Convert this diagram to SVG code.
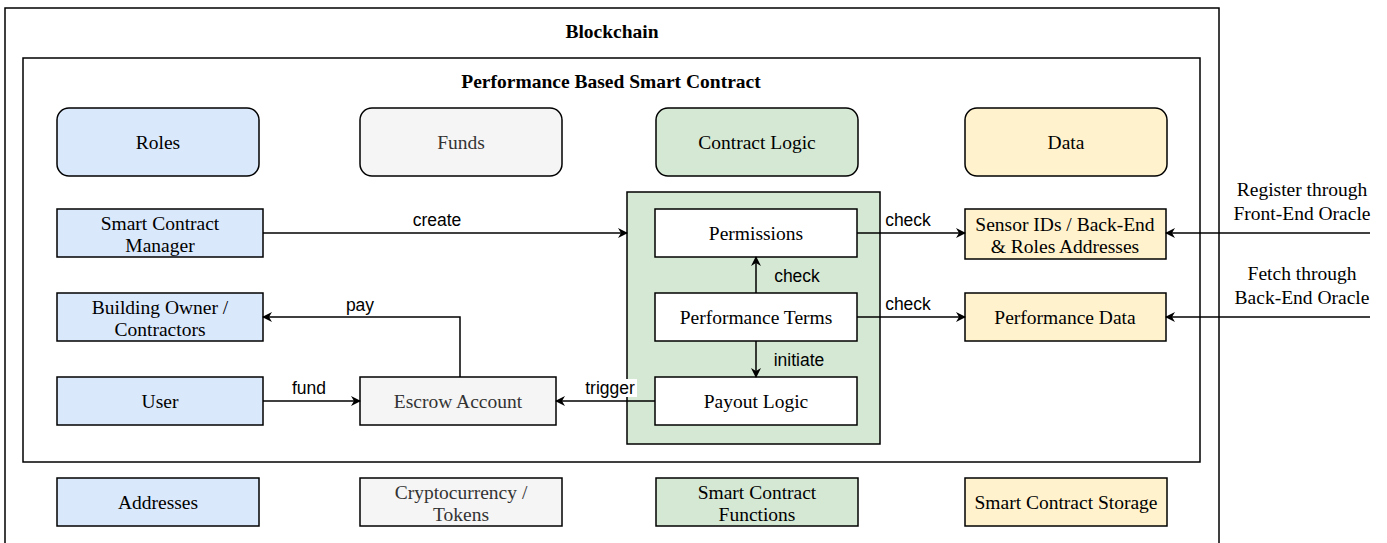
<svg xmlns="http://www.w3.org/2000/svg" width="1387" height="543" viewBox="0 0 1387 543">
<defs>
<marker id="ah" viewBox="0 0 10 10" refX="9" refY="5" markerWidth="10" markerHeight="10" markerUnits="userSpaceOnUse" orient="auto">
<path d="M0,0 L10,5 L0,10 L3,5 Z" fill="#000"/>
</marker>
</defs>
<style>
.frame{fill:#fff;stroke:#000;stroke-width:1.5}
.n{stroke:#000;stroke-width:1.5}
.blue{fill:#dae8fc}
.gray{fill:#f5f5f5}
.green{fill:#d5e8d4}
.yellow{fill:#fff2cc}
.white{fill:#fff}
.t{font-family:"Liberation Serif",serif;font-size:19.5px;text-anchor:middle;fill:#000}
.tg{fill:#333}
.b{font-weight:bold}
.l{font-family:"Liberation Sans",sans-serif;font-size:17.5px;text-anchor:middle;fill:#000}
.c{fill:none;stroke:#000;stroke-width:1.5;marker-end:url(#ah)}
</style>
<rect width="1387" height="543" fill="#fff"/>
<g id="blockchain">
<rect class="frame" x="5" y="8" width="1214" height="560"/>
<text class="t b" x="612" y="38">Blockchain</text>
</g>
<g id="smart-contract">
<rect class="frame" x="23" y="58" width="1177" height="404"/>
<text class="t b" x="611" y="88">Performance Based Smart Contract</text>
</g>
<g id="roles"><rect class="n blue" x="57" y="108" width="202" height="68" rx="12"/><text class="t" x="158" y="149">Roles</text></g>
<g id="funds"><rect class="n gray" x="360" y="108" width="202" height="68" rx="12"/><text class="t tg" x="461" y="149">Funds</text></g>
<g id="contract-logic"><rect class="n green" x="656" y="108" width="202" height="68" rx="12"/><text class="t" x="757" y="149">Contract Logic</text></g>
<g id="data"><rect class="n yellow" x="965" y="108" width="202" height="68" rx="12"/><text class="t" x="1066" y="149">Data</text></g>

<g id="logic-container"><rect class="n green" x="627" y="192" width="253" height="252"/></g>

<g id="manager"><rect class="n blue" x="57" y="209" width="206" height="48"/><text class="t" x="160" y="230">Smart Contract</text><text class="t" x="160" y="252">Manager</text></g>
<g id="owner"><rect class="n blue" x="57" y="293" width="206" height="48"/><text class="t" x="160" y="314">Building Owner /</text><text class="t" x="160" y="336">Contractors</text></g>
<g id="user"><rect class="n blue" x="57" y="377" width="206" height="48"/><text class="t" x="160" y="408">User</text></g>
<g id="escrow"><rect class="n gray" x="360" y="377" width="196" height="48"/><text class="t tg" x="458" y="408">Escrow Account</text></g>
<g id="permissions"><rect class="n white" x="655" y="209" width="202" height="48"/><text class="t" x="756" y="240">Permissions</text></g>
<g id="terms"><rect class="n white" x="655" y="293" width="202" height="48"/><text class="t" x="756" y="324">Performance Terms</text></g>
<g id="payout"><rect class="n white" x="655" y="377" width="202" height="48"/><text class="t" x="756" y="408">Payout Logic</text></g>
<g id="sensor"><rect class="n yellow" x="965" y="209" width="201" height="50"/><text class="t" x="1065" y="231">Sensor IDs / Back-End</text><text class="t" x="1065" y="253">&amp; Roles Addresses</text></g>
<g id="perfdata"><rect class="n yellow" x="965" y="293" width="201" height="48"/><text class="t" x="1065" y="324">Performance Data</text></g>

<g id="addresses"><rect class="n blue" x="57" y="478" width="202" height="48"/><text class="t" x="158" y="509">Addresses</text></g>
<g id="crypto"><rect class="n gray" x="360" y="478" width="202" height="48"/><text class="t tg" x="461" y="499">Cryptocurrency /</text><text class="t tg" x="461" y="521">Tokens</text></g>
<g id="functions"><rect class="n green" x="656" y="478" width="202" height="48"/><text class="t" x="757" y="499">Smart Contract</text><text class="t" x="757" y="521">Functions</text></g>
<g id="storage"><rect class="n yellow" x="965" y="478" width="202" height="48"/><text class="t" x="1066" y="509">Smart Contract Storage</text></g>

<g id="oracle-labels">
<text class="t" x="1302" y="196">Register through</text>
<text class="t" x="1302" y="220">Front-End Oracle</text>
<text class="t" x="1302" y="280">Fetch through</text>
<text class="t" x="1302" y="304">Back-End Oracle</text>
</g>

<g id="connectors">
<path class="c" d="M263,233 L627,233"/>
<text class="l" x="437" y="226">create</text>
<path class="c" d="M857,233 L965,233"/>
<text class="l" x="908" y="226">check</text>
<path class="c" d="M857,317 L965,317"/>
<text class="l" x="908" y="310">check</text>
<path class="c" d="M756,293 L756,257"/>
<text class="l" x="797" y="282">check</text>
<path class="c" d="M756,341 L756,377"/>
<text class="l" x="799" y="366">initiate</text>
<path class="c" d="M655,401 L556,401"/>
<rect x="582" y="379" width="55" height="18" fill="#fff"/>
<text class="l" x="610" y="394">trigger</text>
<path class="c" d="M460,377 L460,317 L263,317"/>
<text class="l" x="360" y="311">pay</text>
<path class="c" d="M263,401 L360,401"/>
<text class="l" x="309" y="394">fund</text>
<path class="c" d="M1370,233 L1166,233"/>
<path class="c" d="M1370,317 L1166,317"/>
</g>
</svg>
